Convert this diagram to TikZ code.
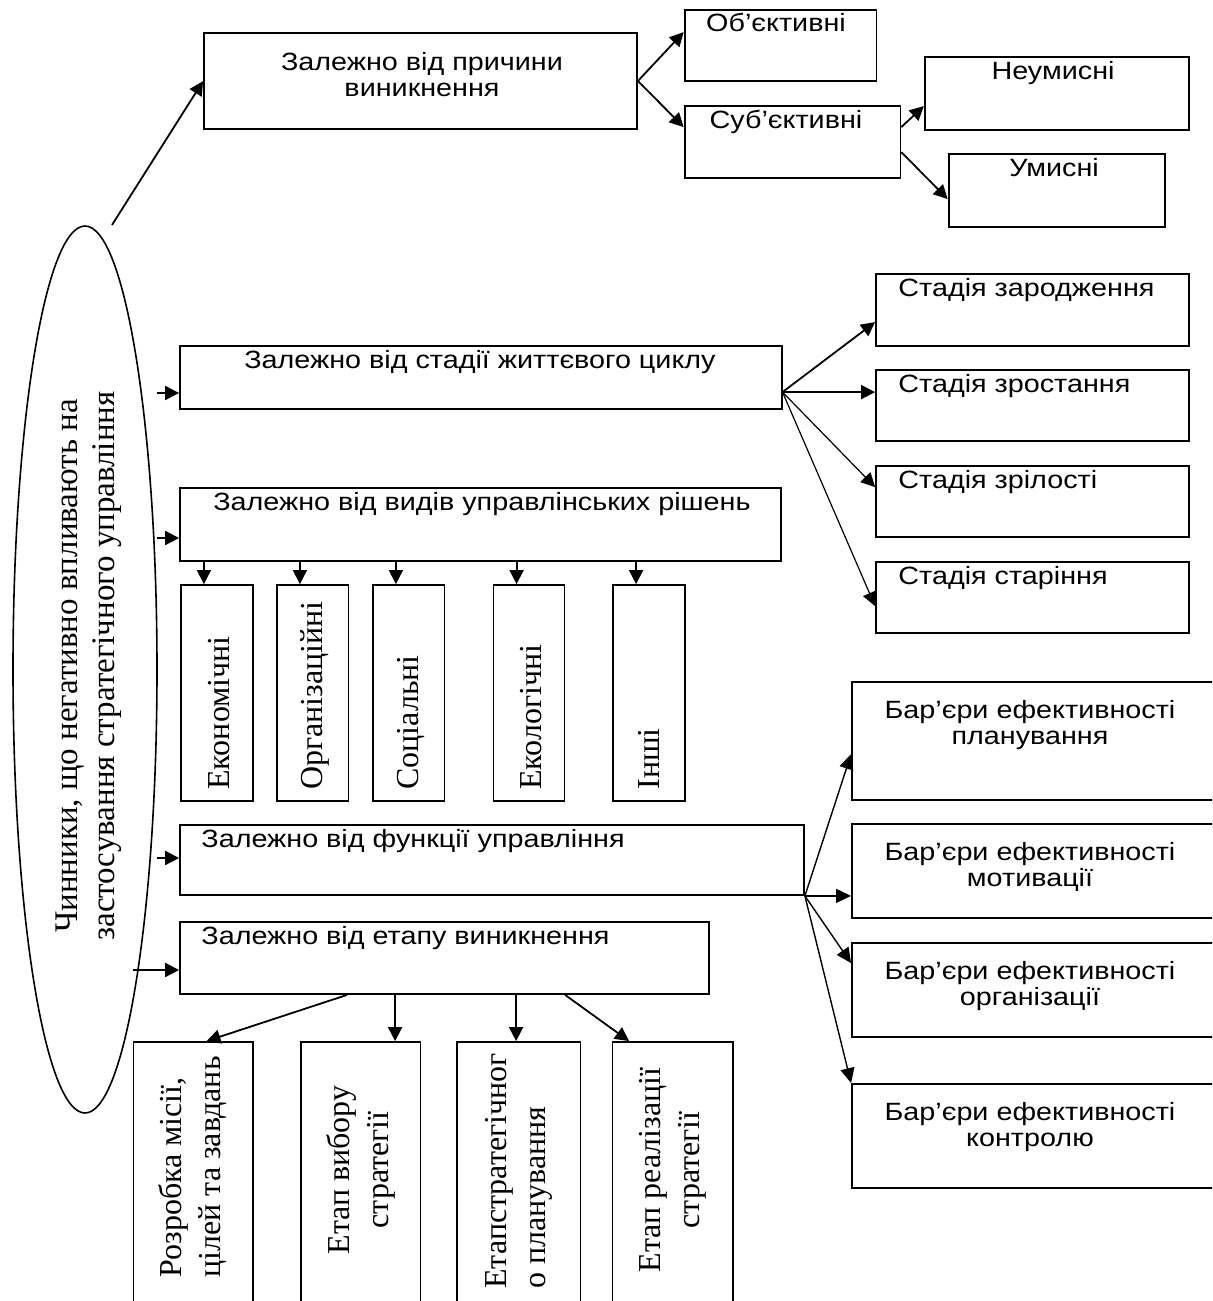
\documentclass[tikz,border=0pt]{standalone}
\usepackage{fontspec}
\setmainfont{Liberation Serif}
\newfontfamily\sansf[FakeStretch=1.15]{Liberation Sans}
\usetikzlibrary{arrows.meta,calc,fit,shapes.geometric}
\begin{document}
\begin{tikzpicture}[x=0.5pt,y=-0.5pt,
  box/.style={draw,line width=0.9pt,inner sep=0pt},
  arr/.style={line width=0.9pt,-{Triangle[length=7pt,width=7pt]}},
  midarr/.style={line width=0.7pt,-{Triangle[length=7.5pt,width=7pt]}},
  thinarr/.style={line width=0.6pt,-{Triangle[length=7pt,width=7pt]}},
  lbl/.style={font=\sansf\fontsize{12.5}{13}\selectfont,inner sep=0pt,anchor=base},
  lbll/.style={lbl,anchor=base west},
  vlbl/.style={font=\fontsize{16}{19.5}\selectfont,rotate=90,inner sep=0pt},
]
\useasboundingbox (0,0) rectangle (1212,1301);
\clip (0,0) rectangle (1212,1301);
\fill[white] (0,0) rectangle (1212,1301);

% boxes
\node[box,fit={(204,33)(637,129)}] (P) {};
\node[box,fit={(684.6,10)(876.5,81)}] (OB) {};
\node[box,fit={(684.6,106)(900.4,177.7)}] (SUB) {};
\node[box,fit={(924.7,57)(1189,130)}] (NEU) {};
\node[box,fit={(948.6,154)(1165,226.7)}] (UM) {};
\node[box,fit={(180,346)(781.6,409)}] (L) {};
\node[box,fit={(876,274)(1189,346)}] (S1) {};
\node[box,fit={(876,370)(1189,441)}] (S2) {};
\node[box,fit={(876,466)(1189,537)}] (S3) {};
\node[box,fit={(876,562)(1189,633)}] (S4) {};
\node[box,fit={(180,488)(781,561)}] (V) {};
\node[box,fit={(180.8,585)(252.8,801)}] (E1) {};
\node[box,fit={(276.8,585)(348.5,801)}] (E2) {};
\node[box,fit={(372.8,585)(444.5,801)}] (E3) {};
\node[box,fit={(493.5,585)(564.5,801)}] (E4) {};
\node[box,fit={(613,585)(685,801)}] (E5) {};
\node[box,fit={(180,825)(804,895)}] (F) {};
\node[box,fit={(180,922)(709,994)}] (T) {};
\node[box,fit={(133.4,1042)(253,1320)}] (B1) {};
\node[box,fit={(300.6,1042)(420.4,1320)}] (B2) {};
\node[box,fit={(456.8,1042)(580.4,1320)}] (B3) {};
\node[box,fit={(612.5,1042)(733,1320)}] (B4) {};
\node[box,fit={(852,682)(1230,800)}] (R1) {};
\node[box,fit={(852,824)(1230,918)}] (R2) {};
\node[box,fit={(852,943)(1230,1037)}] (R3) {};
\node[box,fit={(852,1084)(1230,1188)}] (R4) {};
\node[draw,ellipse,line width=0.8pt,minimum width=72pt,minimum height=443.5pt,inner sep=0pt] (EL) at (85,669.5) {};

% texts
\node[lbl] (tP1) at (422,70) {Залежно від причини};
\node[lbl] (tP2) at (422,96) {виникнення};
\node[lbl] (tOB) at (776,32) {Об’єктивні};
\node[lbl] (tSUB) at (786,128) {Суб’єктивні};
\node[lbl] (tNEU) at (1053,79) {Неумисні};
\node[lbl] (tUM) at (1054,176) {Умисні};
\node[lbl] (tL) at (480,368) {Залежно від стадії життєвого циклу};
\node[lbll] (tS1) at (898,296) {Стадія зародження};
\node[lbll] (tS2) at (898,392) {Стадія зростання};
\node[lbll] (tS3) at (898,488) {Стадія зрілості};
\node[lbll] (tS4) at (898,584) {Стадія старіння};
\node[lbl] (tV) at (482,510) {Залежно від видів управлінських рішень};
\node[lbll] (tF) at (201,847) {Залежно від функції управління};
\node[lbll] (tT) at (201,944) {Залежно від етапу виникнення};
\node[lbl] (tR1a) at (1030,718) {Бар’єри ефективності};
\node[lbl] (tR1b) at (1030,744) {планування};
\node[lbl] (tR2a) at (1030,860) {Бар’єри ефективності};
\node[lbl] (tR2b) at (1030,886) {мотивації};
\node[lbl] (tR3a) at (1030,979) {Бар’єри ефективності};
\node[lbl] (tR3b) at (1030,1005) {організації};
\node[lbl] (tR4a) at (1030,1120) {Бар’єри ефективності};
\node[lbl] (tR4b) at (1030,1146) {контролю};

\node[vlbl,anchor=west] (tE1) at (219,790) {Економічні};
\node[vlbl,anchor=west] (tE2) at (315,790) {Організаційні};
\node[vlbl,anchor=west] (tE3) at (411,790) {Соціальні};
\node[vlbl,anchor=west] (tE4) at (531,790) {Екологічні};
\node[vlbl,anchor=west] (tE5) at (649,790) {Інші};

\node[vlbl,align=left,anchor=west] (tB1) at (193,1278) {Розробка місії,\\цілей та завдань};
\node[vlbl,align=center] (tB2) at (361,1170) {Етап вибору\\стратегії};
\node[vlbl,align=left,anchor=west] (tB3) at (519,1289) {Етапстратегічног\\о планування};
\node[vlbl,align=center] (tB4) at (673,1170) {Етап реалізації\\стратегії};

\node[font=\fontsize{16.5}{18.5}\selectfont,rotate=90,align=center,inner sep=0pt] (tEL) at (89,666)
  {Чинники, що негативно впливають на\\застосування стратегічного управління};

% connectors
\coordinate (c0) at (112,225);
\draw[arr] (c0) -- ($(P.north west)+(0,49)$);
\draw[arr] (P.east) -- ($(OB.north west)+(0,23)$);
\draw[arr] (P.east) -- ($(SUB.north west)+(0,22)$);
\draw[arr] ($(SUB.north east)+(0,22)$) -- ($(NEU.north west)+(0,50)$);
\draw[arr] ($(SUB.north east)+(0,47)$) -- ($(UM.north west)+(0,46)$);

\coordinate (cL) at (157,393);
\coordinate (cV) at (157,538);
\coordinate (cF) at (157,858);
\coordinate (cT) at (133,970);
\draw[arr] (cL) -- (cL -| L.west);
\draw[arr] (cV) -- (cV -| V.west);
\draw[arr] (cF) -- (cF -| F.west);
\draw[arr] (cT) -- (cT -| T.west);

\coordinate (Lout) at ($(L.north east)+(0,47)$);
\draw[arr] (Lout) -- ($(S1.north west)+(0,49)$);
\draw[arr] (Lout) -- (Lout -| S2.west);
\draw[thinarr] (Lout) -- ($(S3.north west)+(0,22)$);
\draw[thinarr] (Lout) -- ($(S4.north west)+(0,45)$);

\foreach \n in {E1,E2,E3,E4,E5}{
  \coordinate (t\n) at ($(\n.north west)+(24,0)$);
  \draw[arr] (t\n |- V.south) -- (t\n);
}

\draw[midarr] (F.south east) -- ($(R1.north west)+(0,73)$);
\draw[midarr] (F.south east) -- (F.south east -| R2.west);
\draw[midarr] (F.south east) -- ($(R3.north west)+(0,21)$);
\draw[midarr] (F.south east) -- (R4.north west);

\draw[arr] ($(T.south west)+(168,0)$) -- ($(B1.north west)+(74,0)$);
\coordinate (tb2) at ($(T.south west)+(216,0)$);
\coordinate (tb3) at ($(T.south west)+(337,0)$);
\draw[arr] (tb2) -- (tb2 |- B2.north);
\draw[arr] (tb3) -- (tb3 |- B3.north);
\draw[arr] ($(T.south west)+(386,0)$) -- ($(B4.north west)+(17.5,0)$);
\end{tikzpicture}
\end{document}
